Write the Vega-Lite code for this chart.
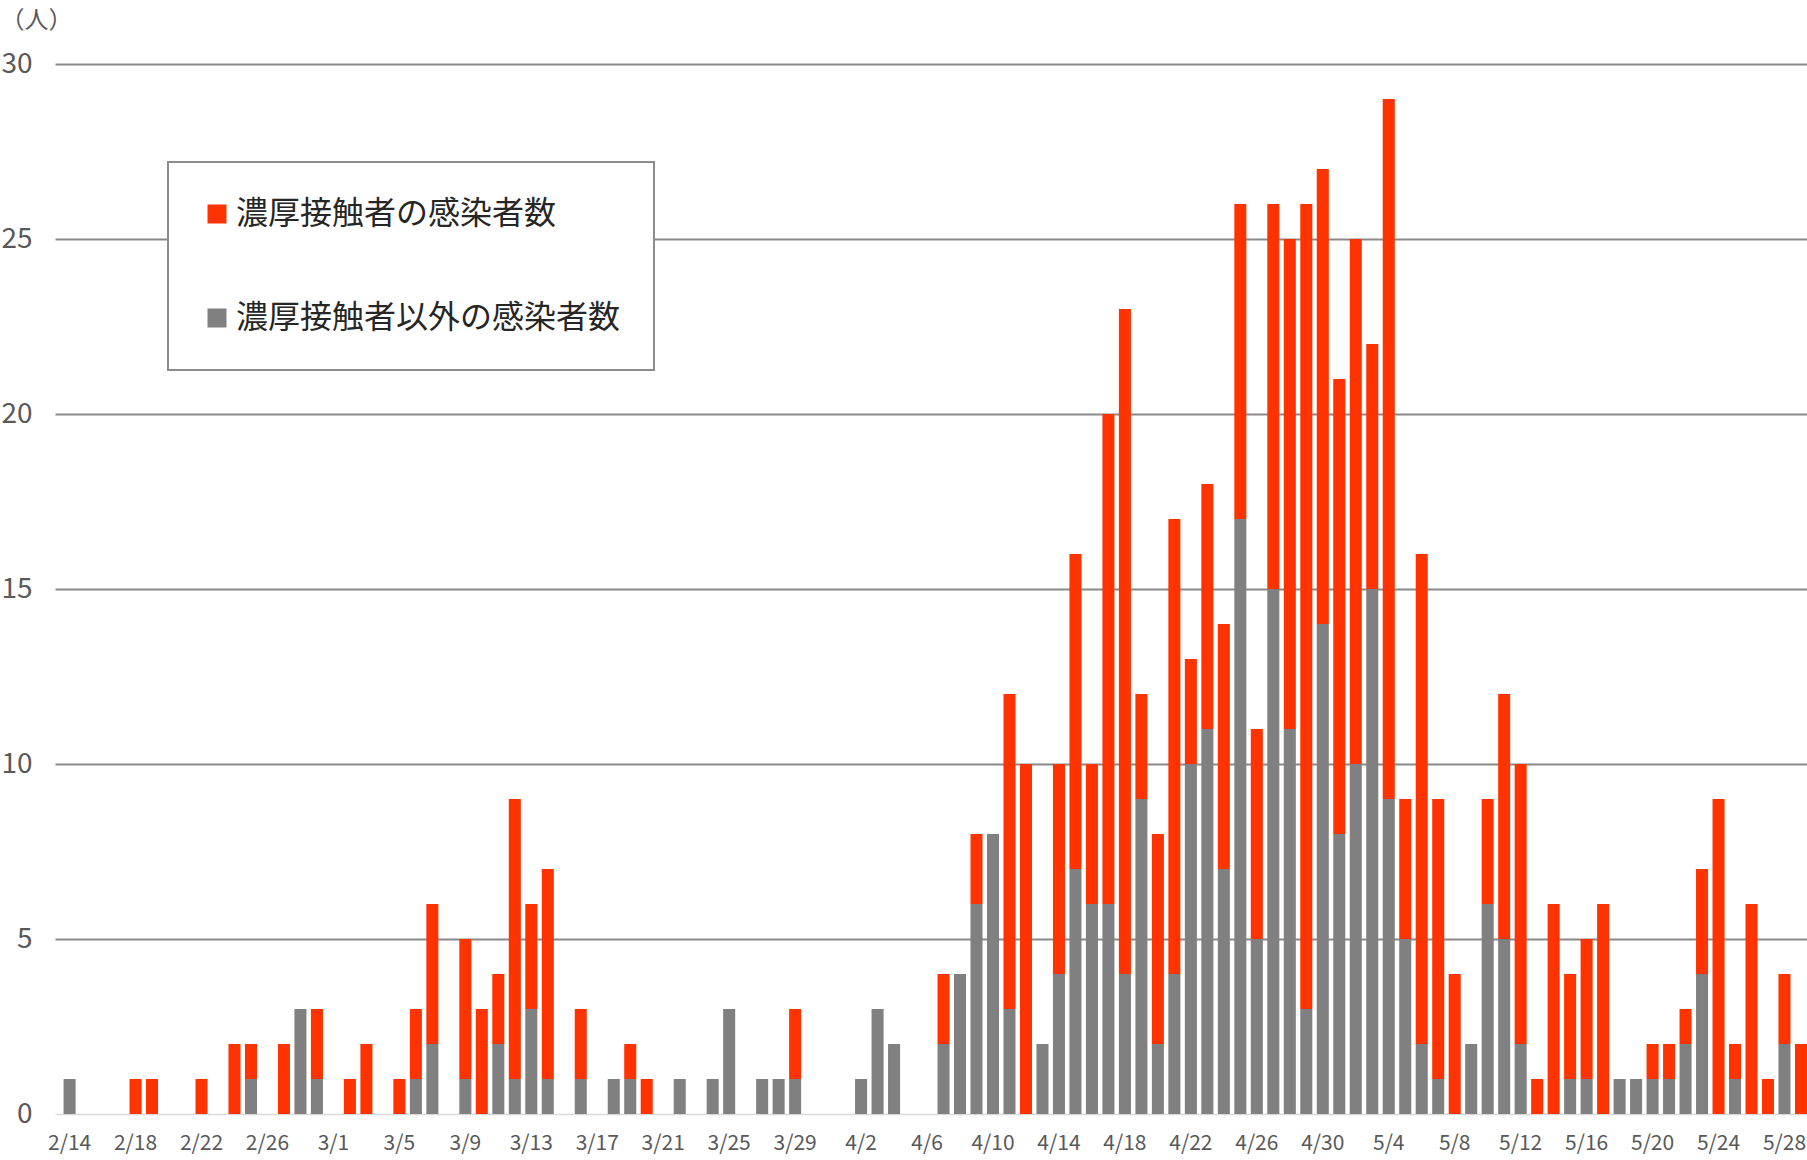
{
  "$schema": "https://vega.github.io/schema/vega-lite/v6.json",
  "width": 1752,
  "height": 1050,
  "autosize": {"type": "none"},
  "padding": {"left": 55, "top": 64, "right": 0, "bottom": 46},
  "background": "white",
  "config": {"view": {"stroke": null}, "font": "Noto Sans CJK JP"},
  "data": {"values": [
    {"d":"2/14","c":0,"o":1},{"d":"2/15","c":0,"o":0},{"d":"2/16","c":0,"o":0},{"d":"2/17","c":0,"o":0},
    {"d":"2/18","c":1,"o":0},{"d":"2/19","c":1,"o":0},{"d":"2/20","c":0,"o":0},{"d":"2/21","c":0,"o":0},
    {"d":"2/22","c":1,"o":0},{"d":"2/23","c":0,"o":0},{"d":"2/24","c":2,"o":0},{"d":"2/25","c":1,"o":1},
    {"d":"2/26","c":0,"o":0},{"d":"2/27","c":2,"o":0},{"d":"2/28","c":0,"o":3},{"d":"2/29","c":2,"o":1},
    {"d":"3/1","c":0,"o":0},{"d":"3/2","c":1,"o":0},{"d":"3/3","c":2,"o":0},{"d":"3/4","c":0,"o":0},
    {"d":"3/5","c":1,"o":0},{"d":"3/6","c":2,"o":1},{"d":"3/7","c":4,"o":2},{"d":"3/8","c":0,"o":0},
    {"d":"3/9","c":4,"o":1},{"d":"3/10","c":3,"o":0},{"d":"3/11","c":2,"o":2},{"d":"3/12","c":8,"o":1},
    {"d":"3/13","c":3,"o":3},{"d":"3/14","c":6,"o":1},{"d":"3/15","c":0,"o":0},{"d":"3/16","c":2,"o":1},
    {"d":"3/17","c":0,"o":0},{"d":"3/18","c":0,"o":1},{"d":"3/19","c":1,"o":1},{"d":"3/20","c":1,"o":0},
    {"d":"3/21","c":0,"o":0},{"d":"3/22","c":0,"o":1},{"d":"3/23","c":0,"o":0},{"d":"3/24","c":0,"o":1},
    {"d":"3/25","c":0,"o":3},{"d":"3/26","c":0,"o":0},{"d":"3/27","c":0,"o":1},{"d":"3/28","c":0,"o":1},
    {"d":"3/29","c":2,"o":1},{"d":"3/30","c":0,"o":0},{"d":"3/31","c":0,"o":0},{"d":"4/1","c":0,"o":0},
    {"d":"4/2","c":0,"o":1},{"d":"4/3","c":0,"o":3},{"d":"4/4","c":0,"o":2},{"d":"4/5","c":0,"o":0},
    {"d":"4/6","c":0,"o":0},{"d":"4/7","c":2,"o":2},{"d":"4/8","c":0,"o":4},{"d":"4/9","c":2,"o":6},
    {"d":"4/10","c":0,"o":8},{"d":"4/11","c":9,"o":3},{"d":"4/12","c":10,"o":0},{"d":"4/13","c":0,"o":2},
    {"d":"4/14","c":6,"o":4},{"d":"4/15","c":9,"o":7},{"d":"4/16","c":4,"o":6},{"d":"4/17","c":14,"o":6},
    {"d":"4/18","c":19,"o":4},{"d":"4/19","c":3,"o":9},{"d":"4/20","c":6,"o":2},{"d":"4/21","c":13,"o":4},
    {"d":"4/22","c":3,"o":10},{"d":"4/23","c":7,"o":11},{"d":"4/24","c":7,"o":7},{"d":"4/25","c":9,"o":17},
    {"d":"4/26","c":6,"o":5},{"d":"4/27","c":11,"o":15},{"d":"4/28","c":14,"o":11},{"d":"4/29","c":23,"o":3},
    {"d":"4/30","c":13,"o":14},{"d":"5/1","c":13,"o":8},{"d":"5/2","c":15,"o":10},{"d":"5/3","c":7,"o":15},
    {"d":"5/4","c":20,"o":9},{"d":"5/5","c":4,"o":5},{"d":"5/6","c":14,"o":2},{"d":"5/7","c":8,"o":1},
    {"d":"5/8","c":4,"o":0},{"d":"5/9","c":0,"o":2},{"d":"5/10","c":3,"o":6},{"d":"5/11","c":7,"o":5},
    {"d":"5/12","c":8,"o":2},{"d":"5/13","c":1,"o":0},{"d":"5/14","c":6,"o":0},{"d":"5/15","c":3,"o":1},
    {"d":"5/16","c":4,"o":1},{"d":"5/17","c":6,"o":0},{"d":"5/18","c":0,"o":1},{"d":"5/19","c":0,"o":1},
    {"d":"5/20","c":1,"o":1},{"d":"5/21","c":1,"o":1},{"d":"5/22","c":1,"o":2},{"d":"5/23","c":3,"o":4},
    {"d":"5/24","c":9,"o":0},{"d":"5/25","c":1,"o":1},{"d":"5/26","c":6,"o":0},{"d":"5/27","c":1,"o":0},
    {"d":"5/28","c":2,"o":2},{"d":"5/29","c":2,"o":0}
  ]},
  "transform": [{"fold": ["c", "o"], "as": ["t", "n"]}],
  "mark": {"type": "bar"},
  "encoding": {
    "x": {
      "field": "d", "type": "ordinal", "sort": null,
      "scale": {"paddingInner": 0.27, "paddingOuter": 0.26, "align": 1},
      "axis": {
        "title": null,
        "values": ["2/14","2/18","2/22","2/26","3/1","3/5","3/9","3/13","3/17","3/21","3/25","3/29","4/2","4/6","4/10","4/14","4/18","4/22","4/26","4/30","5/4","5/8","5/12","5/16","5/20","5/24","5/28"],
        "labelAngle": 0, "ticks": false, "grid": false,
        "domainColor": "#d9d9d9", "domainWidth": 1.5,
        "labelFontSize": 21, "labelColor": "#595959", "labelPadding": 18, "labelOverlap": false
      }
    },
    "y": {
      "field": "n", "type": "quantitative", "stack": "zero",
      "scale": {"domain": [0, 30], "nice": false},
      "axis": {
        "title": "（人）", "titleAngle": 0, "titleAlign": "left", "titleBaseline": "middle",
        "titleX": -55, "titleY": -44, "titleFontSize": 24, "titleFontWeight": "normal", "titleColor": "#595959",
        "values": [0, 5, 10, 15, 20, 25, 30],
        "domain": false, "ticks": false,
        "labelFontSize": 28, "labelColor": "#595959", "labelPadding": 23,
        "gridColor": "#898989", "gridWidth": 2,
        "gridOpacity": {"condition": {"test": "datum.value === 0", "value": 0}, "value": 1}
      }
    },
    "color": {
      "field": "t", "type": "nominal",
      "scale": {"domain": ["c", "o"], "range": ["#FF3300", "#808080"]},
      "legend": {
        "title": null, "orient": "none", "legendX": 113, "legendY": 98, "direction": "vertical",
        "padding": 33, "strokeColor": "#8c8c8c", "fillColor": "white",
        "labelExpr": "datum.label == 'c' ? '濃厚接触者の感染者数' : '濃厚接触者以外の感染者数'",
        "labelFontSize": 32, "labelColor": "#262626", "labelLimit": 800, "labelOffset": 3,
        "symbolType": "square", "symbolSize": 361, "symbolStrokeWidth": 0, "symbolOpacity": 1,
        "clipHeight": 38, "rowPadding": 66,
        "encode": {"legend": {"update": {"strokeWidth": {"value": 2}}}}
      }
    },
    "order": {"field": "t", "sort": "descending"}
  }
}
